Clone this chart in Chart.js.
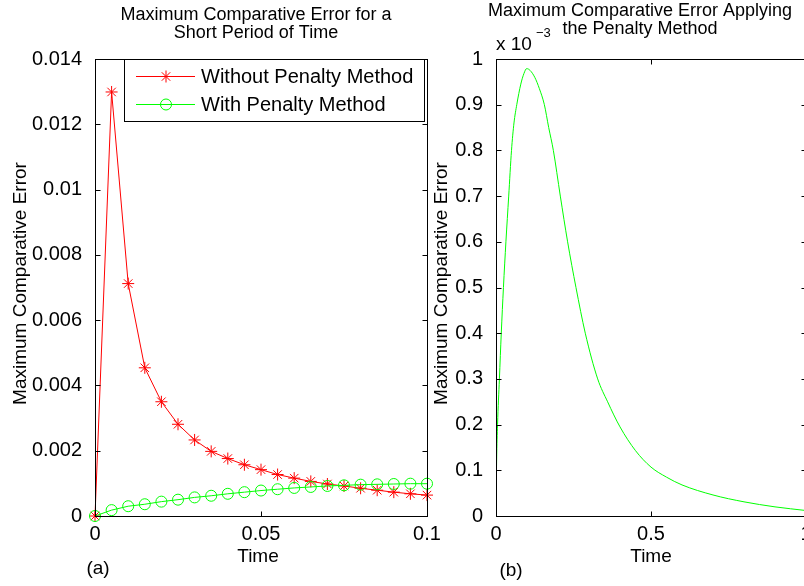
<!DOCTYPE html>
<html>
<head>
<meta charset="utf-8">
<script src="https://cdn.jsdelivr.net/npm/chart.js@4/dist/chart.umd.min.js"></script>
<style>
  html, body { margin: 0; padding: 0; background: #fff; overflow: hidden; width: 804px; height: 586px; }
  #plotA { position: absolute; left: 0; top: 0; }
  #plotB { position: absolute; left: 415px; top: 0; }
</style>
</head>
<body>
<canvas id="plotA" width="440" height="586"></canvas>
<canvas id="plotB" width="405" height="586"></canvas>
<script>
// panel (a): short period of time
var timeA = [0, 0.005, 0.01, 0.015, 0.02, 0.025, 0.03, 0.035, 0.04, 0.045, 0.05,
             0.055, 0.06, 0.065, 0.07, 0.075, 0.08, 0.085, 0.09, 0.095, 0.1];
var withoutPenalty = [0, 0.01299, 0.00712, 0.00454, 0.00350, 0.00281, 0.00233, 0.00198, 0.00176, 0.00157, 0.00142,
                      0.00127, 0.00116, 0.00106, 0.00098, 0.00092, 0.00085, 0.00079, 0.00073, 0.00068, 0.00064];
var withPenalty = [0, 0.00018, 0.00030, 0.00036, 0.00044, 0.00050, 0.00057, 0.00062, 0.00068, 0.00073, 0.00078,
                   0.00082, 0.00086, 0.00089, 0.00092, 0.00094, 0.00096, 0.00097, 0.00098, 0.00099, 0.00099];

// panel (b): penalty method, values in units of 1e-3
var timeB = [0, 0.002, 0.005, 0.011, 0.017, 0.024, 0.032, 0.041, 0.05, 0.058, 0.067, 0.08, 0.09, 0.099,
             0.11, 0.125, 0.14, 0.156, 0.17, 0.185, 0.2075, 0.231, 0.258, 0.288, 0.328, 0.36, 0.4, 0.45,
             0.5, 0.55, 0.6, 0.7, 0.8, 0.9, 1.0];
var penaltyB = [0, 0.12, 0.2, 0.3, 0.4, 0.5, 0.6, 0.7, 0.8, 0.86, 0.9, 0.945, 0.968, 0.979,
                0.975, 0.96, 0.935, 0.9, 0.85, 0.8, 0.7, 0.6, 0.5, 0.4, 0.3, 0.25, 0.195, 0.143,
                0.107, 0.085, 0.068, 0.046, 0.031, 0.02, 0.012];

var FONT = '"Liberation Sans", Arial, Helvetica, sans-serif';

function pts(xs, ys) {
    return xs.map(function (x, i) { return { x: x, y: ys[i] }; });
}
function plain(v) { return String(+Number(v).toFixed(6)); }

// box with inward ticks on all sides, plus titles and labels
var framePlugin = {
    id: 'frame',
    afterDraw: function (chart, args, opts) {
        var ctx = chart.ctx, a = chart.chartArea;
        var xs = chart.scales.x, ys = chart.scales.y;
        var L = Math.round(a.left) + 0.5, R = Math.round(a.right) + 0.5;
        var T = Math.round(a.top) + 0.5, B = Math.round(a.bottom) + 0.5;
        ctx.save();
        ctx.strokeStyle = '#000';
        ctx.lineWidth = 1;
        ctx.strokeRect(L, T, R - L, B - T);
        ctx.beginPath();
        xs.ticks.forEach(function (t) {
            var p = Math.round(xs.getPixelForValue(t.value)) + 0.5;
            ctx.moveTo(p, B); ctx.lineTo(p, B - 5);
            ctx.moveTo(p, T); ctx.lineTo(p, T + 5);
        });
        ys.ticks.forEach(function (t) {
            var p = Math.round(ys.getPixelForValue(t.value)) + 0.5;
            ctx.moveTo(L, p); ctx.lineTo(L + 5, p);
            ctx.moveTo(R, p); ctx.lineTo(R - 5, p);
        });
        ctx.stroke();

        ctx.fillStyle = '#000';
        ctx.textAlign = 'center';
        ctx.textBaseline = 'middle';
        ctx.font = '18px ' + FONT;
        opts.title.forEach(function (line, i) {
            ctx.fillText(line, opts.titleX, opts.titleY + i * 18);
        });
        ctx.font = '19px ' + FONT;
        ctx.fillText('Time', opts.xLabelX, 557);
        ctx.fillText(opts.panel, opts.panelX, opts.panelY);
        ctx.save();
        ctx.translate(opts.yLabelX, (a.top + a.bottom) / 2 - 4);
        ctx.rotate(-Math.PI / 2);
        ctx.fillText('Maximum Comparative Error', 0, 0);
        ctx.restore();

        if (opts.exponent) {
            ctx.textAlign = 'left';
            ctx.textBaseline = 'alphabetic';
            ctx.font = '19px ' + FONT;
            ctx.fillText('x 10', a.left, 50);
            ctx.font = '13px ' + FONT;
            ctx.fillText('\u22123', a.left + 40, 37);
        }

        if (opts.legend) {
            var lg = opts.legend;
            ctx.fillStyle = '#fff';
            ctx.fillRect(lg.x, lg.y, lg.w, lg.h);
            ctx.strokeStyle = '#000';
            ctx.strokeRect(lg.x + 0.5, lg.y + 0.5, lg.w, lg.h);
            chart.data.datasets.forEach(function (ds, i) {
                var yy = lg.y + 17 + i * 28;
                ctx.strokeStyle = ds.borderColor;
                ctx.lineWidth = 1;
                ctx.beginPath();
                ctx.moveTo(lg.x + 12, yy + 0.5);
                ctx.lineTo(lg.x + 71, yy + 0.5);
                ctx.stroke();
                ctx.fillStyle = 'rgba(0,0,0,0)';
                Chart.helpers.drawPoint(ctx, {
                    pointStyle: ds.pointStyle, radius: ds.pointRadius, rotation: 0, borderWidth: 1
                }, lg.x + 42, yy + 0.5);
                ctx.fillStyle = '#000';
                ctx.font = '20px ' + FONT;
                ctx.textAlign = 'left';
                ctx.textBaseline = 'middle';
                ctx.fillText(ds.label, lg.x + 77, yy + 1);
            });
        }
        ctx.restore();
    }
};

function axes(xMax, xStep, yMax, yStep, yWidth) {
    var tickFont = { family: FONT, size: 20 };
    return {
        x: {
            type: 'linear', min: 0, max: xMax,
            grid: { display: false }, border: { display: false },
            ticks: { stepSize: xStep, color: '#000', font: tickFont, padding: -2, maxRotation: 0, callback: plain },
            afterFit: function (s) { s.height = 70; }
        },
        y: {
            type: 'linear', min: 0, max: yMax,
            grid: { display: false }, border: { display: false },
            ticks: { stepSize: yStep, color: '#000', font: tickFont, padding: 5, callback: plain },
            afterFit: function (s) { s.width = yWidth; }
        }
    };
}

new Chart(document.getElementById('plotA').getContext('2d'), {
    type: 'line',
    data: {
        datasets: [{
            label: 'Without Penalty Method',
            data: pts(timeA, withoutPenalty),
            borderColor: '#ff0000', backgroundColor: '#ff0000',
            borderWidth: 1, pointStyle: 'star', pointRadius: 6, pointBorderWidth: 1,
            tension: 0, clip: false, order: 2
        }, {
            label: 'With Penalty Method',
            data: pts(timeA, withPenalty),
            borderColor: '#00ff00', backgroundColor: 'rgba(0,0,0,0)',
            borderWidth: 1, pointStyle: 'circle', pointRadius: 5.5, pointBorderWidth: 1,
            tension: 0, clip: false, order: 1
        }]
    },
    options: {
        responsive: false, animation: false,
        layout: { padding: { top: 59, right: 13, left: 0, bottom: 0 } },
        scales: axes(0.1, 0.05, 0.014, 0.002, 95),
        plugins: {
            legend: { display: false }, tooltip: { enabled: false },
            frame: {
                title: ['Maximum Comparative Error for a', 'Short Period of Time'],
                titleX: 256, titleY: 15, xLabelX: 258, yLabelX: 21,
                panel: '(a)', panelX: 98, panelY: 569,
                legend: { x: 124, y: 59, w: 300, h: 62 }
            }
        }
    },
    plugins: [framePlugin]
});

new Chart(document.getElementById('plotB').getContext('2d'), {
    type: 'line',
    data: {
        datasets: [{
            label: 'With Penalty Method',
            data: pts(timeB, penaltyB),
            borderColor: '#00ff00', borderWidth: 1,
            pointRadius: 0, cubicInterpolationMode: 'monotone'
        }]
    },
    options: {
        responsive: false, animation: false,
        layout: { padding: { top: 59, right: 14, left: 0, bottom: 0 } },
        scales: axes(1, 0.5, 1, 0.1, 81),
        plugins: {
            legend: { display: false }, tooltip: { enabled: false },
            frame: {
                title: ['Maximum Comparative Error Applying', 'the Penalty Method'],
                titleX: 225, titleY: 11, xLabelX: 236, yLabelX: 27,
                panel: '(b)', panelX: 96, panelY: 571,
                exponent: true
            }
        }
    },
    plugins: [framePlugin]
});
</script>
</body>
</html>
